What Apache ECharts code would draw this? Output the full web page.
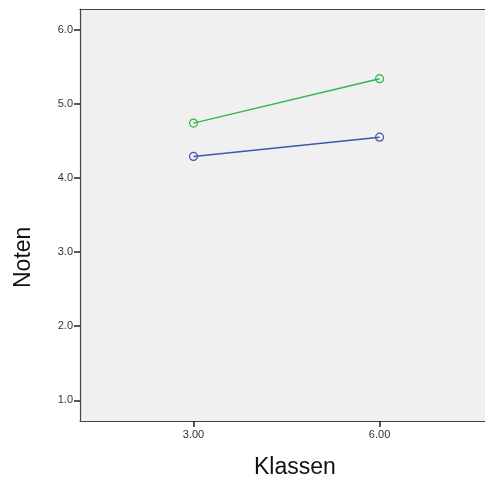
<!DOCTYPE html>
<html><head><meta charset="utf-8">
<script src="https://cdn.jsdelivr.net/npm/echarts@6/dist/echarts.min.js"></script>
<style>html,body{margin:0;padding:0;background:#fff}#c{width:485px;height:480px}</style>
</head><body><div id="c"></div>
<script>
const klassen = [3, 6];
const seriesA = [4.29, 4.55];   // blue
const seriesB = [4.74, 5.34];   // green
const yTicks = [1, 2, 3, 4, 5, 6];
const xTicks = [3, 6];

const chart = echarts.init(document.getElementById('c'));
const font = 'Liberation Sans, Arial, sans-serif';
chart.setOption({
  animation: false,
  grid: {left: 80, top: 9, right: 0, bottom: 59, show: true, backgroundColor: '#f0f0f0', borderWidth: 0},
  xAxis: [{
    type: 'value', min: 1.17, max: 7.70,
    axisLine: {show: true, onZero: false, lineStyle: {color: '#444', width: 1.2}},
    axisTick: {show: true, length: 6, lineStyle: {color: '#222', width: 1.5},
      customValues: xTicks},
    axisLabel: {fontSize: 11, color: '#333', fontFamily: font, margin: 8,
      customValues: xTicks, formatter: v => v.toFixed(2)},
    splitLine: {show: false}
  }, {
    type: 'value', min: 1.17, max: 7.70, position: 'top',
    axisLine: {show: true, onZero: false, lineStyle: {color: '#444', width: 1.2}},
    axisTick: {show: false}, axisLabel: {show: false}, splitLine: {show: false}
  }],
  yAxis: {
    type: 'value', min: 0.72, max: 6.28,
    axisLine: {show: true, onZero: false, lineStyle: {color: '#444', width: 1.2}},
    axisTick: {show: true, length: 6, lineStyle: {color: '#222', width: 1.5},
      customValues: yTicks},
    axisLabel: {fontSize: 11, color: '#333', fontFamily: font, margin: 7,
      customValues: yTicks, formatter: v => v.toFixed(1)},
    splitLine: {show: false}
  },
  graphic: [
    {type: 'text', left: 254, top: 456, style: {text: 'Klassen', fill: '#111', font: '23px Liberation Sans, Arial, sans-serif'}},
    {type: 'text', x: 12, y: 288, rotation: Math.PI / 2, style: {text: 'Noten', fill: '#111', font: '23px Liberation Sans, Arial, sans-serif'}}
  ],
  series: [
    {type: 'line', data: klassen.map((k, i) => [k, seriesA[i]]), symbol: 'circle', symbolSize: 8,
      lineStyle: {color: '#3e58ac', width: 1.5}, itemStyle: {color: 'rgba(0,0,0,0)', borderColor: '#3e58ac', borderWidth: 1.2}},
    {type: 'line', data: klassen.map((k, i) => [k, seriesB[i]]), symbol: 'circle', symbolSize: 8,
      lineStyle: {color: '#2eb848', width: 1.5}, itemStyle: {color: 'rgba(0,0,0,0)', borderColor: '#2eb848', borderWidth: 1.2}}
  ]
});
</script></body></html>
